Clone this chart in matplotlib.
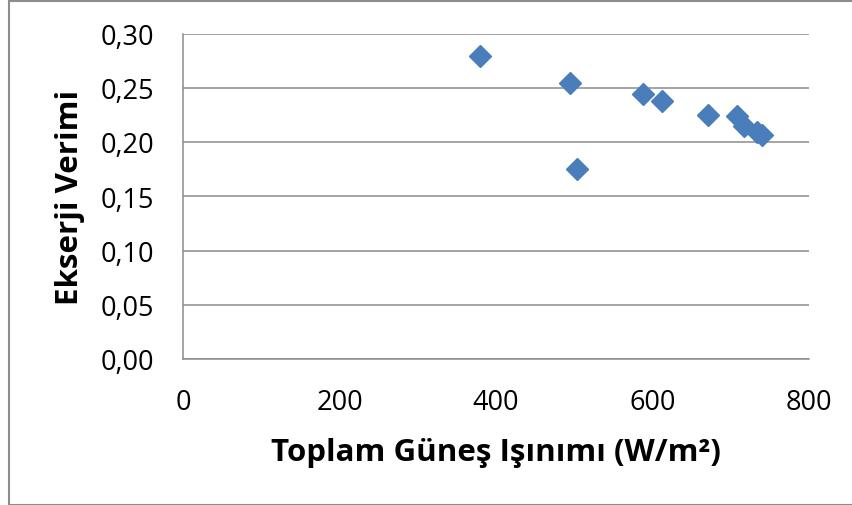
import matplotlib
matplotlib.use("Agg")
import matplotlib.pyplot as plt
from matplotlib.patches import Rectangle

# Irradiance (W/m2) and exergy efficiency measurements
irradiance = [379, 495, 503, 588, 612, 671, 708, 717, 734, 740]
exergy_eff = [0.279, 0.254, 0.175, 0.244, 0.238, 0.225, 0.224, 0.215, 0.209, 0.206]

x_ticks = [0, 200, 400, 600, 800]
y_ticks = [0.00, 0.05, 0.10, 0.15, 0.20, 0.25, 0.30]

plt.rcParams['font.family'] = ['Open Sans', 'DejaVu Sans']

fig = plt.figure(figsize=(8.52, 5.06), dpi=100)
ax = fig.add_axes([183 / 852, 1 - 360 / 506, 626 / 852, 325.5 / 506])

ax.plot(irradiance, exergy_eff, linestyle='none', marker='D', markersize=11,
        color='#4A7EBB', markeredgecolor='#4A7EBB', zorder=3)

ax.set_xlim(0, 800)
ax.set_ylim(0, 0.30)
ax.set_xticks(x_ticks)
ax.set_yticks(y_ticks)
ax.set_xticklabels([str(v) for v in x_ticks])
ax.set_yticklabels([f"{v:.2f}".replace('.', ',') for v in y_ticks])
ax.tick_params(axis='y', length=0, labelsize=19.5, pad=21, colors='black')
ax.tick_params(axis='x', length=0, labelsize=19.5, pad=21, colors='black')

ax.grid(axis='y', color='#8c8c8c', linewidth=1.1)
for side in ['right', 'top']:
    ax.spines[side].set_visible(False)
for side in ['left', 'bottom']:
    ax.spines[side].set_color('#8c8c8c')
    ax.spines[side].set_linewidth(1.1)

ax.set_xlabel('Toplam Güneş Işınımı (W/m²)', fontsize=22.5, fontweight='bold', labelpad=15)
ax.set_ylabel('Ekserji Verimi', fontsize=22.5, fontweight='bold', labelpad=11)

# chart frame
fig.patches.append(Rectangle((9 / 852, 0.5 / 506), 1.0, 504 / 506, transform=fig.transFigure,
                             fill=False, edgecolor='#8c8c8c', linewidth=1.5))

fig.savefig('out.png', dpi=100)
